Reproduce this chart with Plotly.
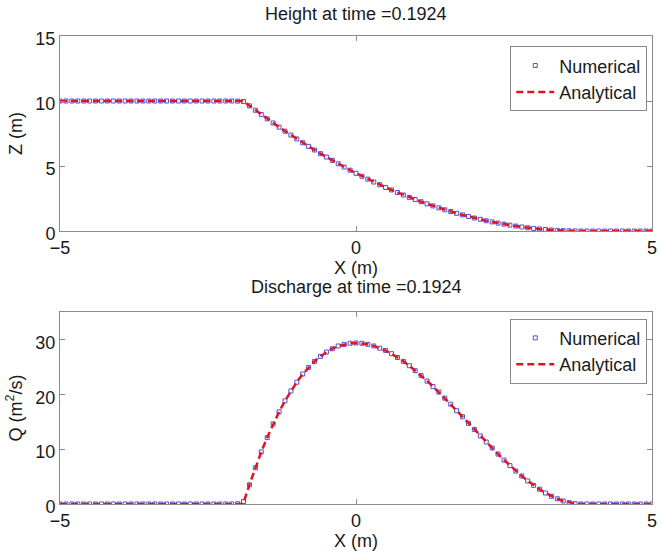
import plotly.graph_objects as go
from plotly.subplots import make_subplots

# ---------------- data ----------------
x_num = [-5.0, -4.9, -4.8, -4.7, -4.6, -4.5, -4.4, -4.3, -4.2, -4.1,
         -4.0, -3.9, -3.8, -3.7, -3.6, -3.5, -3.4, -3.3, -3.2, -3.1,
         -3.0, -2.9, -2.8, -2.7, -2.6, -2.5, -2.4, -2.3, -2.2, -2.1,
         -2.0, -1.9, -1.8, -1.7, -1.6, -1.5, -1.4, -1.3, -1.2, -1.1,
         -1.0, -0.9, -0.8, -0.7, -0.6, -0.5, -0.4, -0.3, -0.2, -0.1,
         0.0, 0.1, 0.2, 0.3, 0.4, 0.5, 0.6, 0.7, 0.8, 0.9,
         1.0, 1.1, 1.2, 1.3, 1.4, 1.5, 1.6, 1.7, 1.8, 1.9,
         2.0, 2.1, 2.2, 2.3, 2.4, 2.5, 2.6, 2.7, 2.8, 2.9,
         3.0, 3.1, 3.2, 3.3, 3.4, 3.5, 3.6, 3.7, 3.8, 3.9,
         4.0, 4.1, 4.2, 4.3, 4.4, 4.5, 4.6, 4.7, 4.8, 4.9, 5.0]

h_num = [10.0, 10.0, 10.0, 10.0, 10.0, 10.0, 10.0, 10.0, 10.0, 10.0,
         10.0, 10.0, 10.0, 10.0, 10.0, 10.0, 10.0, 10.0, 10.0, 10.0,
         10.0, 10.0, 10.0, 10.0, 10.0, 10.0, 10.0, 10.0, 10.0, 10.0,
         9.99, 9.96, 9.63, 9.29, 8.96, 8.63, 8.31, 7.99, 7.68, 7.38,
         7.08, 6.79, 6.51, 6.23, 5.95, 5.69, 5.43, 5.17, 4.92, 4.68,
         4.44, 4.21, 3.99, 3.77, 3.56, 3.35, 3.16, 2.96, 2.77, 2.59,
         2.42, 2.25, 2.09, 1.93, 1.78, 1.63, 1.50, 1.36, 1.24, 1.12,
         1.00, 0.90, 0.79, 0.70, 0.61, 0.53, 0.45, 0.38, 0.31, 0.25,
         0.20, 0.16, 0.12, 0.08, 0.05, 0.03, 0.015, 0.005, 0.0, 0.0,
         0.0, 0.0, 0.0, 0.0, 0.0, 0.0, 0.0, 0.0, 0.0, 0.0, 0.0]

q_num = [0.0, 0.0, 0.0, 0.0, 0.0, 0.0, 0.0, 0.0, 0.0, 0.0,
         0.0, 0.0, 0.0, 0.0, 0.0, 0.0, 0.0, 0.0, 0.0, 0.0,
         0.0, 0.0, 0.0, 0.0, 0.0, 0.0, 0.0, 0.0, 0.0, 0.0,
         0.05, 0.45, 3.5, 6.6, 9.5, 12.1, 14.6, 16.8, 18.8, 20.6,
         22.2, 23.7, 24.9, 26.0, 26.9, 27.7, 28.3, 28.8, 29.1, 29.3,
         29.35, 29.3, 29.1, 28.8, 28.4, 28.0, 27.4, 26.7, 26.0, 25.2,
         24.3, 23.4, 22.4, 21.4, 20.4, 19.3, 18.2, 17.0, 15.9, 14.7,
         13.6, 12.4, 11.3, 10.2, 9.1, 8.0, 7.0, 6.0, 5.1, 4.2,
         3.4, 2.7, 2.0, 1.4, 0.95, 0.55, 0.25, 0.07, 0.0, 0.0,
         0.0, 0.0, 0.0, 0.0, 0.0, 0.0, 0.0, 0.0, 0.0, 0.0, 0.0]

x_ana = [-5.0, -1.906, -1.8, -1.7, -1.6, -1.5, -1.4, -1.3, -1.2, -1.1,
         -1.0, -0.9, -0.8, -0.7, -0.6, -0.5, -0.4, -0.3, -0.2, -0.1,
         0.0, 0.1, 0.2, 0.3, 0.4, 0.5, 0.6, 0.7, 0.8, 0.9,
         1.0, 1.1, 1.2, 1.3, 1.4, 1.5, 1.6, 1.7, 1.8, 1.9,
         2.0, 2.1, 2.2, 2.3, 2.4, 2.5, 2.6, 2.7, 2.8, 2.9,
         3.0, 3.1, 3.2, 3.3, 3.4, 3.5, 3.6, 3.7, 3.8, 3.811, 5.0]

h_ana = [10.0, 10.0, 9.634, 9.294, 8.959, 8.631, 8.309, 7.993, 7.684, 7.380,
         7.083, 6.791, 6.506, 6.227, 5.954, 5.687, 5.426, 5.172, 4.923, 4.681,
         4.444, 4.214, 3.990, 3.772, 3.560, 3.355, 3.155, 2.962, 2.774, 2.593,
         2.418, 2.249, 2.086, 1.930, 1.779, 1.634, 1.496, 1.364, 1.238, 1.118,
         1.004, 0.896, 0.794, 0.699, 0.609, 0.526, 0.449, 0.378, 0.313, 0.254,
         0.201, 0.155, 0.114, 0.080, 0.052, 0.030, 0.014, 0.004, 0.000, 0.0, 0.0]

q_ana = [0.0, 0.0, 3.526, 6.622, 9.488, 12.131, 14.557, 16.773, 18.787, 20.602,
         22.226, 23.664, 24.925, 26.013, 26.936, 27.699, 28.308, 28.772, 29.095, 29.285,
         29.346, 29.287, 29.112, 28.830, 28.444, 27.963, 27.394, 26.740, 26.010, 25.211,
         24.346, 23.424, 22.451, 21.434, 20.376, 19.287, 18.173, 17.039, 15.893, 14.738,
         13.584, 12.436, 11.300, 10.184, 9.091, 8.031, 7.008, 6.030, 5.102, 4.231,
         3.423, 2.685, 2.022, 1.443, 0.951, 0.555, 0.261, 0.074, 0.001, 0.0, 0.0]

x_ticks = [-5, 0, 5]
z_ticks = [0, 5, 10, 15]
q_ticks = [0, 10, 20, 30]

title_top = "Height at time =0.1924"
title_bot = "Discharge at time =0.1924"

# ---------------- figure ----------------
FONT = "Liberation Sans, Arial, sans-serif"
AX = "#8a8a8a"
TXT = "#1a1a1a"
BLUE = "rgb(80,80,220)"
RED = "rgb(225,20,30)"

fig = make_subplots(rows=2, cols=1, vertical_spacing=0.0)

def add_pair(row, xn, yn, xa, ya, legend):
    fig.add_trace(go.Scatter(
        x=xn, y=yn, mode="markers", name="Numerical",
        marker=dict(symbol="square-open", size=4, color=BLUE, line=dict(width=1, color=BLUE)),
        legend=legend), row=row, col=1)
    fig.add_trace(go.Scatter(
        x=xa, y=ya, mode="lines", name="Analytical",
        line=dict(color=RED, width=2.5, dash="7px,4px"),
        legend=legend), row=row, col=1)

add_pair(1, x_num, h_num, x_ana, h_ana, "legend")
add_pair(2, x_num, q_num, x_ana, q_ana, "legend2")

axis_common = dict(
    showline=True, linecolor=AX, linewidth=1, mirror="allticks",
    ticks="inside", ticklen=5, tickcolor=AX, showgrid=False, zeroline=False,
    tickfont=dict(family=FONT, size=18, color=TXT),
)
TITLE_FONT = dict(family=FONT, size=18, color=TXT)

fig.update_xaxes(range=[-5, 5], tickvals=x_ticks, ticklabeloverflow="allow",
                 ticklabelstandoff=0, **axis_common)
fig.update_xaxes(domain=[0, 1])
fig.update_xaxes(title=dict(text="X (m)", font=TITLE_FONT, standoff=0), row=1, col=1)
fig.update_xaxes(title=dict(text="X (m)", font=TITLE_FONT, standoff=0), row=2, col=1)

fig.update_yaxes(ticklabelshift=3, **axis_common)
fig.update_yaxes(range=[0, 15], tickvals=z_ticks, domain=[0.5833, 1.0],
                 title=dict(text="Z (m)", font=TITLE_FONT, standoff=8),
                 row=1, col=1)
fig.update_yaxes(range=[0, 35], tickvals=q_ticks, domain=[0.0, 0.4103],
                 title=dict(text="Q (m<sup>2</sup>/s)", font=TITLE_FONT, standoff=8),
                 row=2, col=1)

legend_common = dict(
    xref="paper", yref="paper", xanchor="right", yanchor="top",
    bgcolor="white", bordercolor=AX, borderwidth=1,
    font=dict(family=FONT, size=18, color=TXT), tracegroupgap=0,
    itemwidth=38,
)
fig.update_layout(
    legend=dict(x=0.992, y=0.978, **legend_common),
    legend2=dict(x=0.992, y=0.396, **legend_common),
)

fig.add_annotation(text=title_top, xref="paper", yref="paper", x=0.5, y=1.0,
                   yanchor="bottom", yshift=10, showarrow=False,
                   font=dict(family=FONT, size=18, color=TXT))
fig.add_annotation(text=title_bot, xref="paper", yref="paper", x=0.5, y=0.4103,
                   yanchor="bottom", yshift=13, showarrow=False,
                   font=dict(family=FONT, size=18, color=TXT))

fig.update_layout(
    width=661, height=551,
    margin=dict(l=60, r=4, t=36, b=47),
    paper_bgcolor="white", plot_bgcolor="white",
    showlegend=True,
)

fig.write_html("out.html")
